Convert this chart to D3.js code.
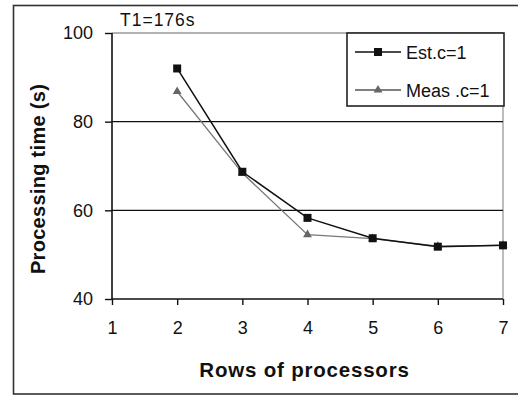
<!DOCTYPE html>
<html>
<head>
<meta charset="utf-8">
<script src="https://cdn.jsdelivr.net/npm/d3@7"></script>
<style>
  html, body { margin: 0; padding: 0; background: #fff; }
  svg { display: block; }
  text { font-family: "Liberation Sans", Arial, sans-serif; fill: #111; }
</style>
</head>
<body>
<svg id="chart" width="518" height="397"></svg>
<script>
// Processing time against number of processor rows
const rows = [2, 3, 4, 5, 6, 7];
const estimated = [92, 68.7, 58.3, 53.7, 51.8, 52.1];
const measured = [86.8, 68.4, 54.5, 53.6, 51.9, 52.1];
const xTicks = [1, 2, 3, 4, 5, 6, 7];
const yTicks = [40, 60, 80, 100];
const seriesNames = ["Est.c=1", "Meas .c=1"];
const titleText = "T1=176s";

const svg = d3.select("#chart");
const plot = { left: 112, right: 503, top: 33, bottom: 299 };

const x = d3.scaleLinear().domain([1, 7]).range([plot.left, plot.right]);
const y = d3.scaleLinear().domain([40, 100]).range([plot.bottom, plot.top]);

// outer frame (open on the right, running past the edge)
svg.append("rect")
  .attr("x", 13.5).attr("y", 5.5)
  .attr("width", 520).attr("height", 388.5)
  .attr("fill", "none").attr("stroke", "#333").attr("stroke-width", 1.6);

// plot frame top and right in grey
svg.append("line")
  .attr("x1", plot.left).attr("x2", plot.right)
  .attr("y1", y(100)).attr("y2", y(100))
  .attr("stroke", "#999").attr("stroke-width", 1.3);
svg.append("line")
  .attr("x1", plot.right).attr("x2", plot.right)
  .attr("y1", plot.top).attr("y2", plot.bottom)
  .attr("stroke", "#999").attr("stroke-width", 1.3);

// horizontal gridlines
svg.append("g")
  .selectAll("line")
  .data(yTicks.filter(v => v > 40 && v < 100))
  .join("line")
  .attr("x1", plot.left).attr("x2", plot.right)
  .attr("y1", d => y(d)).attr("y2", d => y(d))
  .attr("stroke", "#111").attr("stroke-width", 1.4);

// axes
const yAxis = svg.append("g")
  .attr("transform", `translate(${plot.left},0)`)
  .call(d3.axisLeft(y).tickValues(yTicks).tickSize(7).tickPadding(12).tickFormat(d3.format("d")));
const xAxis = svg.append("g")
  .attr("transform", `translate(0,${plot.bottom})`)
  .call(d3.axisBottom(x).tickValues(xTicks).tickSize(6).tickPadding(16).tickFormat(d3.format("d")));

[yAxis, xAxis].forEach(g => {
  g.select(".domain").attr("stroke", "#111").attr("stroke-width", 1.6);
  g.selectAll(".tick line").attr("stroke", "#111").attr("stroke-width", 1.4);
  g.selectAll(".tick text")
    .attr("font-size", 18)
    .attr("font-family", "'Liberation Sans', Arial, sans-serif")
    .attr("fill", "#111");
});
xAxis.select(".domain").attr("d", `M${plot.left},0H${plot.right}`);
yAxis.select(".domain").attr("d", `M0,${plot.top}V${plot.bottom}`);

// series lines
const line = d3.line().x((d, i) => x(rows[i])).y(d => y(d));

svg.append("path")
  .datum(measured)
  .attr("d", line)
  .attr("fill", "none").attr("stroke", "#777").attr("stroke-width", 1.3);
svg.append("path")
  .datum(estimated)
  .attr("d", line)
  .attr("fill", "none").attr("stroke", "#111").attr("stroke-width", 1.5);

const triangle = d3.symbol().type(d3.symbolTriangle).size(34);
const square = d3.symbol().type(d3.symbolSquare).size(64);

svg.append("g").selectAll("path")
  .data(measured)
  .join("path")
  .attr("d", triangle)
  .attr("transform", (d, i) => `translate(${x(rows[i])},${y(d)})`)
  .attr("fill", "#666");

svg.append("g").selectAll("path")
  .data(estimated)
  .join("path")
  .attr("d", square)
  .attr("transform", (d, i) => `translate(${x(rows[i])},${y(d)})`)
  .attr("fill", "#111");

// title
svg.append("text")
  .attr("x", 120).attr("y", 25.5)
  .attr("font-size", 17.5)
  .attr("letter-spacing", 1)
  .text(titleText);

// axis titles
svg.append("text")
  .attr("x", (plot.left + plot.right) / 2 - 3).attr("y", 377)
  .attr("text-anchor", "middle")
  .attr("font-size", 20.5).attr("font-weight", "bold")
  .attr("letter-spacing", 0.8)
  .text("Rows of processors");

svg.append("text")
  .attr("transform", "translate(45,179) rotate(-90)")
  .attr("text-anchor", "middle")
  .attr("font-size", 20).attr("font-weight", "bold")
  .attr("letter-spacing", 0.3)
  .text("Processing time (s)");

// legend
const legend = svg.append("g");
legend.append("rect")
  .attr("x", 347).attr("y", 33)
  .attr("width", 157).attr("height", 73)
  .attr("fill", "#fff").attr("stroke", "#222").attr("stroke-width", 1.6);

const legendRows = [
  { name: seriesNames[0], yPos: 52, color: "#111", sym: square, symColor: "#111", w: 1.5 },
  { name: seriesNames[1], yPos: 90, color: "#555", sym: triangle, symColor: "#666", w: 1.3 }
];
legendRows.forEach(r => {
  legend.append("line")
    .attr("x1", 355).attr("x2", 401)
    .attr("y1", r.yPos).attr("y2", r.yPos)
    .attr("stroke", r.color).attr("stroke-width", r.w);
  legend.append("path")
    .attr("d", r.sym)
    .attr("transform", `translate(378,${r.yPos})`)
    .attr("fill", r.symColor);
  legend.append("text")
    .attr("x", 406).attr("y", r.yPos + 6.5)
    .attr("font-size", 18)
    .text(r.name);
});
</script>
</body>
</html>
